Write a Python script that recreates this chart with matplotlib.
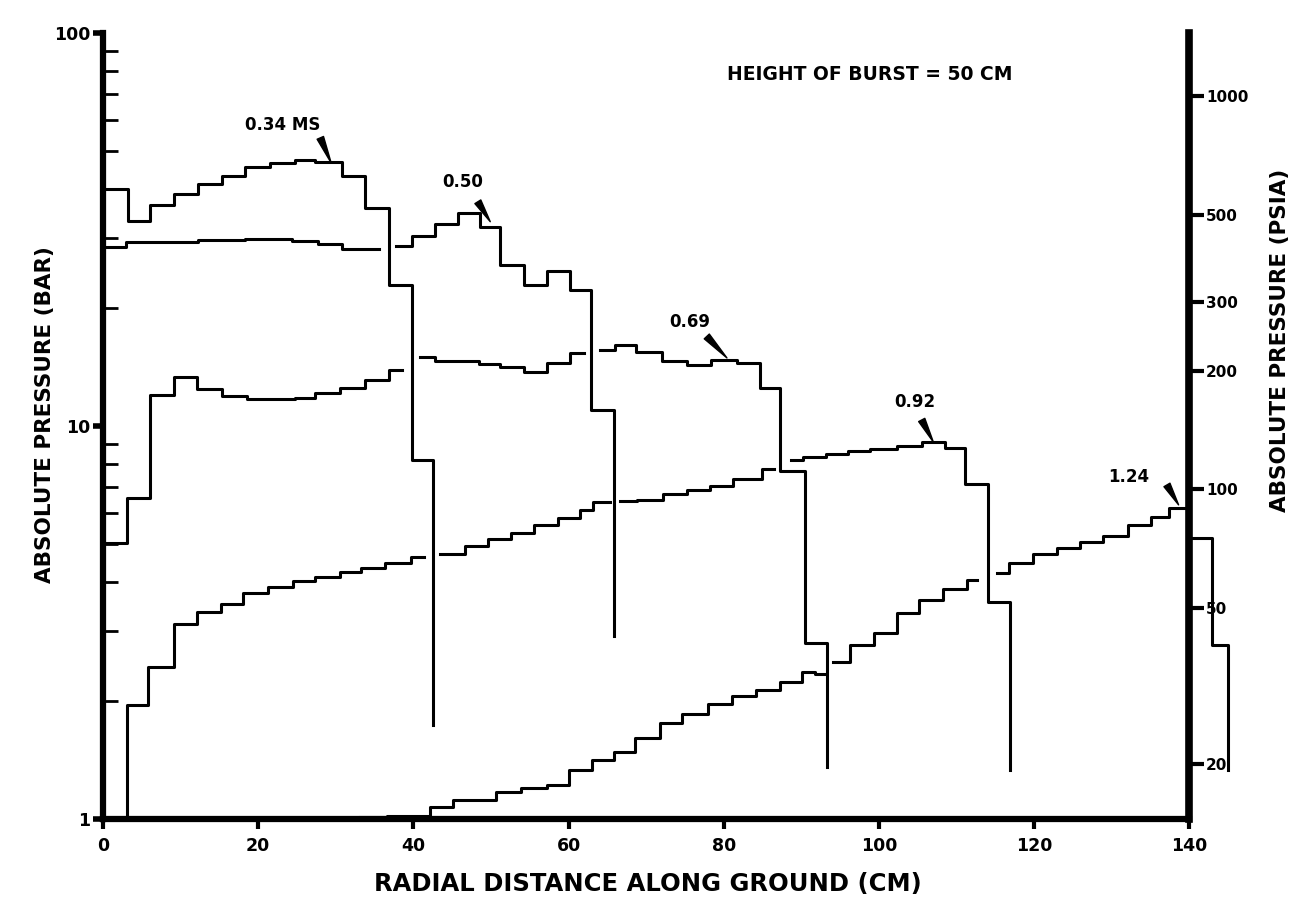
import numpy as np
import matplotlib.pyplot as plt
from matplotlib.ticker import FixedLocator, NullLocator, NullFormatter

plt.rcParams['font.family'] = ['DejaVu Sans']
plt.rcParams['font.weight'] = 'bold'

nan = np.nan
BAR_TO_PSI = 14.5038

# step edges (cm) and absolute pressure (bar), nan = gap in trace
x_034 = [0, 3.2, 6.0, 9.1, 12.2, 15.3, 18.3, 21.5, 24.7, 27.3, 30.8, 33.7, 36.9, 39.8, 42.5]
p_034 = [40.0, 33.3, 36.5, 38.9, 41.2, 43.3, 45.5, 46.8, 47.5, 46.9, 43.3, 35.8, 22.9, 8.2, 1.73]

x_050 = [0, 3.0, 12.2, 18.3, 24.3, 27.7, 30.8, 35.5, 37.8, 39.8, 42.8, 45.7, 48.6,
         51.2, 54.2, 57.2, 60.2, 62.9, 65.8]
p_050 = [28.6, 29.4, 29.7, 29.9, 29.6, 29.0, 28.2, nan, 28.7, 30.4, 32.6, 34.9, 32.0,
         25.7, 22.9, 24.8, 22.2, 11.0, 2.92]

x_069 = [0, 3.05, 6.1, 9.1, 12.1, 15.3, 18.5, 24.7, 27.3, 30.5, 33.7, 36.8, 38.5,
         40.8, 42.8, 48.4, 51.2, 54.3, 57.2, 60.2, 62.0, 64.1, 66.0, 68.7, 72.0,
         75.2, 78.4, 81.7, 84.7, 87.3, 90.5, 93.3]
p_069 = [5.04, 6.54, 12.0, 13.3, 12.4, 11.9, 11.7, 11.8, 12.1, 12.5, 13.1, 13.9, nan,
         15.0, 14.6, 14.4, 14.1, 13.7, 14.5, 15.3, nan, 15.6, 16.1, 15.4, 14.6,
         14.3, 14.7, 14.5, 12.5, 7.7, 2.8, 1.36]

x_092 = [3.05, 3.05, 5.85, 9.1, 12.1, 15.2, 18.1, 21.2, 24.5, 27.3, 30.5, 33.3, 36.3,
         39.7, 41.3, 43.4, 46.6, 49.6, 52.6, 55.6, 58.6, 61.5, 63.1, 65.3, 66.6,
         68.8, 72.2, 75.2, 78.2, 81.2, 84.9, 86.4, 88.7, 90.2, 93.2, 96.0, 98.8,
         102.3, 105.5, 108.5, 111.1, 114.1, 116.9]
p_092 = [1.0, 1.95, 2.43, 3.13, 3.37, 3.52, 3.75, 3.90, 4.03, 4.14, 4.24, 4.35, 4.47,
         4.65, nan, 4.72, 4.95, 5.15, 5.35, 5.6, 5.85, 6.11, 6.42, nan, 6.45,
         6.5, 6.73, 6.87, 7.03, 7.35, 7.79, nan, 8.19, 8.34, 8.50, 8.66, 8.76,
         8.90, 9.08, 8.77, 7.11, 3.57, 1.33]

x_124 = [33.1, 36.6, 42.1, 45.1, 50.7, 53.8, 57.2, 60.0, 63.0, 65.9, 68.6, 71.8, 74.6,
         77.9, 81.0, 84.1, 87.2, 90.1, 91.8, 93.0, 94.1, 96.3, 99.3, 102.3, 105.1,
         108.3, 111.3, 112.6, 115.2, 116.7, 119.9, 122.9, 125.9, 128.9, 132.1,
         135.1, 137.4, 140.0, 142.9, 145.0]
p_124 = [1.01, 1.02, 1.075, 1.12, 1.17, 1.20, 1.22, 1.33, 1.41, 1.48, 1.61, 1.76, 1.85,
         1.96, 2.05, 2.13, 2.23, 2.37, 2.34, nan, 2.51, 2.77, 2.97, 3.34, 3.61,
         3.84, 4.06, nan, 4.23, 4.47, 4.72, 4.88, 5.08, 5.25, 5.60,
         5.86, 6.17, 5.18, 2.77, 1.33]

profiles = [(x_034, p_034), (x_050, p_050), (x_069, p_069), (x_092, p_092), (x_124, p_124)]

# time labels: text, text position, arrow start, arrow tip (cm, bar)
labels = ['0.34 MS', '0.50', '0.69', '0.92', '1.24']
label_pos = [(23.2, 58.3), (46.4, 41.8), (75.6, 18.4), (104.6, 11.5), (132.2, 7.42)]
arrow_from = [(28.0, 54.1), (48.3, 37.2), (77.8, 16.9), (105.5, 10.36), (137.1, 7.08)]
arrow_to = [(29.4, 46.7), (49.9, 33.1), (80.4, 14.9), (107.0, 9.1), (138.6, 6.30)]

fig = plt.figure(figsize=(12.96, 9.19), dpi=100)
ax = fig.add_axes([0.0795, 0.1088, 0.8802, 0.8553])

for xs, ps in profiles:
    ax.step(xs, ps, where='post', color='black', lw=2.2)

ax.set_xlim(0, 147)
ax.set_yscale('log')
ax.set_ylim(1, 100)

ax.set_xticks(range(0, 141, 20))
ax.yaxis.set_major_locator(FixedLocator([1, 10, 100]))
ax.set_yticklabels(['1', '10', '100'])
ax.yaxis.set_minor_locator(FixedLocator([2, 3, 4, 5, 6, 7, 8, 9, 20, 30, 40, 50, 60, 70, 80, 90]))
ax.yaxis.set_minor_formatter(NullFormatter())
ax.tick_params(axis='y', which='major', direction='out', length=7, width=4, labelsize=12.5, pad=2)
ax.tick_params(axis='y', which='minor', direction='in', length=11, width=2)
ax.tick_params(axis='x', direction='out', length=7, width=3, labelsize=12.5, pad=6)

for s in ['top', 'right']:
    ax.spines[s].set_visible(False)
ax.spines['left'].set_linewidth(4.5)
ax.spines['bottom'].set_linewidth(4.5)
ax.spines['bottom'].set_bounds(0, 140)

# psia scale on a spine at x = 140 cm
ax2 = ax.twinx()
ax2.set_yscale('log')
ax2.set_ylim(1 * BAR_TO_PSI, 100 * BAR_TO_PSI)
for s in ['top', 'left', 'bottom']:
    ax2.spines[s].set_visible(False)
ax2.spines['right'].set_position(('data', 140))
ax2.spines['right'].set_linewidth(5.5)
ax2.set_yticks([20, 50, 100, 200, 300, 500, 1000], labels=['20', '50', '100', '200', '300', '500', '1000'])
ax2.yaxis.set_minor_locator(NullLocator())
ax2.tick_params(axis='y', direction='out', length=11, width=3, labelsize=11, pad=1)

for txt, tp, a0, a1 in zip(labels, label_pos, arrow_from, arrow_to):
    ax.text(tp[0], tp[1], txt, ha='center', va='center', fontsize=12, fontweight='bold')
    ax.annotate('', xy=a1, xytext=a0,
                arrowprops=dict(arrowstyle='wedge,tail_width=0.5,shrink_factor=0.5',
                                color='black', shrinkA=0, shrinkB=0))

ax.text(98.8, 78.2, 'HEIGHT OF BURST = 50 CM', ha='center', va='center', fontsize=13.5, fontweight='bold')

fig.text(648 / 1296, 1 - 884 / 919, 'RADIAL DISTANCE ALONG GROUND (CM)', ha='center', va='center',
         fontsize=17.5, fontweight='bold')
fig.text(45 / 1296, 1 - 415 / 919, 'ABSOLUTE PRESSURE (BAR)', ha='center', va='center',
         rotation=90, fontsize=15.5, fontweight='bold')
fig.text(1280 / 1296, 1 - 340 / 919, 'ABSOLUTE PRESSURE (PSIA)', ha='center', va='center',
         rotation=90, fontsize=15.5, fontweight='bold')

fig.savefig('out.png', dpi=100)
